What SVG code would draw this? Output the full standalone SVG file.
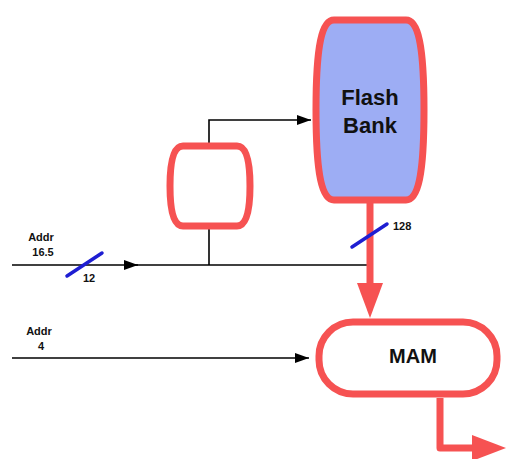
<svg xmlns="http://www.w3.org/2000/svg" width="506" height="459" viewBox="0 0 506 459">
<style>
.red{fill:none;stroke:#f65252;stroke-width:7;stroke-linejoin:round}
.blk{fill:none;stroke:#000;stroke-width:1.6}
.bus{stroke:#1e1ed2;stroke-width:3.5;stroke-linecap:round}
.lbl{font-family:"Liberation Sans",Arial,sans-serif;font-weight:bold;font-size:11px;fill:#111}
.big{font-family:"Liberation Sans",Arial,sans-serif;font-weight:bold;fill:#111;text-anchor:middle}
</style>
<defs>
<marker id="ah" markerWidth="14" markerHeight="10" refX="14" refY="5" orient="auto" markerUnits="userSpaceOnUse">
<path d="M0,0 L14,5 L0,10 Z" fill="#000"/>
</marker>
</defs>
<rect width="506" height="459" fill="#fff"/>
<g id="connectors">
<path class="blk" d="M209 146 V120 H311" marker-end="url(#ah)"/>
<path class="blk" d="M209 226 V265"/>
<path class="blk" d="M12 265 H138" marker-end="url(#ah)"/>
<path class="blk" d="M130 265 H367"/>
<path class="blk" d="M12 358 H309" marker-end="url(#ah)"/>
<path class="red" d="M370 200 V286"/>
<polygon points="357,283 383,283 370,318" fill="#f65252"/>
<path class="red" d="M440 398 V448 H476" stroke-linejoin="miter"/>
<polygon points="472,435 472,461 506,448" fill="#f65252"/>
<line class="bus" x1="67" y1="276" x2="102" y2="253"/>
<text class="lbl" x="83" y="282">12</text>
<line class="bus" x1="352" y1="247" x2="387" y2="224"/>
<text class="lbl" x="393" y="230">128</text>
<text class="lbl" x="41" y="241" text-anchor="middle">Addr</text>
<text class="lbl" x="43" y="256" text-anchor="middle">16.5</text>
<text class="lbl" x="39" y="335" text-anchor="middle">Addr</text>
<text class="lbl" x="41" y="350" text-anchor="middle">4</text>
</g>
<g id="flash-bank">
<path class="red" style="fill:#9dadf4" d="M334 20 H406 C418 20 424 45 424 110 C424 175 418 200 406 200 H334 C322 200 316 175 316 110 C316 45 322 20 334 20 Z"/>
<text class="big" x="370" y="105" font-size="22">Flash</text>
<text class="big" x="370" y="133" font-size="22">Bank</text>
</g>
<g id="small-box">
<path class="red" d="M183 146 H237 C246 146 250 160 250 186 C250 212 246 226 237 226 H183 C174 226 170 212 170 186 C170 160 174 146 183 146 Z"/>
</g>
<g id="mam">
<rect class="red" x="319" y="322" width="178" height="72" rx="34" ry="34" style="fill:#fff"/>
<text class="big" x="413" y="363" font-size="20">MAM</text>
</g>
</svg>
